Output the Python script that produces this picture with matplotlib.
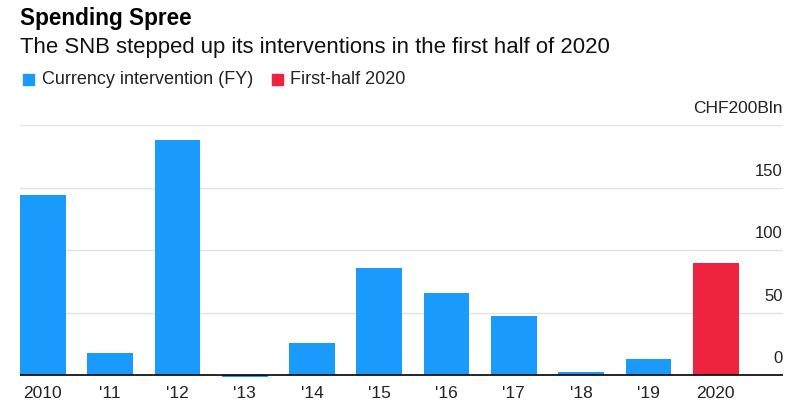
import matplotlib.pyplot as plt
import matplotlib.transforms as mtransforms
from matplotlib.patches import Rectangle

plt.rcParams['font.family'] = ['Liberation Sans', 'DejaVu Sans']

years = ["2010", "'11", "'12", "'13", "'14", "'15", "'16", "'17", "'18", "'19", "2020"]
values = [144, 17.6, 188, -1.3, 26, 86, 66, 47, 2.2, 13, 90]
is_half = [False] * 10 + [True]
yticks = [0, 50, 100, 150, 200]
ytick_labels = ["0", "50", "100", "150", "CHF200Bln"]

blue = "#1a9bfc"
red = "#ee2340"

fig = plt.figure(figsize=(7.92, 4.03), dpi=100)
# 1.25 px per unit; bottom of axes sits 3 px below zero
ax = fig.add_axes([20 / 792, 1 - 378 / 403, 763 / 792, 253 / 403])

colors = [red if h else blue for h in is_half]
ax.bar(range(len(years)), values, width=0.68, color=colors, zorder=3)

ax.set_xlim(-0.34, 11.0)
ax.set_ylim(-2.4, 200)
for s in ax.spines.values():
    s.set_visible(False)
for t in yticks[1:]:
    ax.axhline(t, color="#e2e2e2", lw=1, zorder=1)
ax.axhline(0, color="black", lw=1.2, zorder=4)

ax.set_yticks([])
ax.set_xticks(range(len(years)))
ax.set_xticklabels(years, fontsize=12.5, color="#222222")
ax.tick_params(axis="x", length=0, pad=6)

trans = mtransforms.blended_transform_factory(ax.transAxes, ax.transData)
for t, lab in zip(yticks, ytick_labels):
    ax.text(1.0, t + 7, lab, transform=trans, ha="right", va="bottom",
            fontsize=12.5 if t == 200 else 12, color="#222222")

fig.text(20 / 792, 1 - 19 / 403, "Spending Spree", fontsize=16.3, fontweight="bold",
         va="center", ha="left", color="black")
fig.text(20 / 792, 1 - 47 / 403, "The SNB stepped up its interventions in the first half of 2020",
         fontsize=15.9, va="center", ha="left", color="#111111")

# legend
ly = 1 - 79 / 403
fig.patches.append(Rectangle((23 / 792, 1 - 85 / 403), 11 / 792, 11 / 403,
                             transform=fig.transFigure, color=blue))
fig.text(42 / 792, ly, "Currency intervention (FY)", fontsize=13, va="center", color="#222222")
fig.patches.append(Rectangle((272 / 792, 1 - 85 / 403), 11 / 792, 11 / 403,
                             transform=fig.transFigure, color=red))
fig.text(290 / 792, ly, "First-half 2020", fontsize=13, va="center", color="#222222")

fig.savefig("out.png", dpi=100)
